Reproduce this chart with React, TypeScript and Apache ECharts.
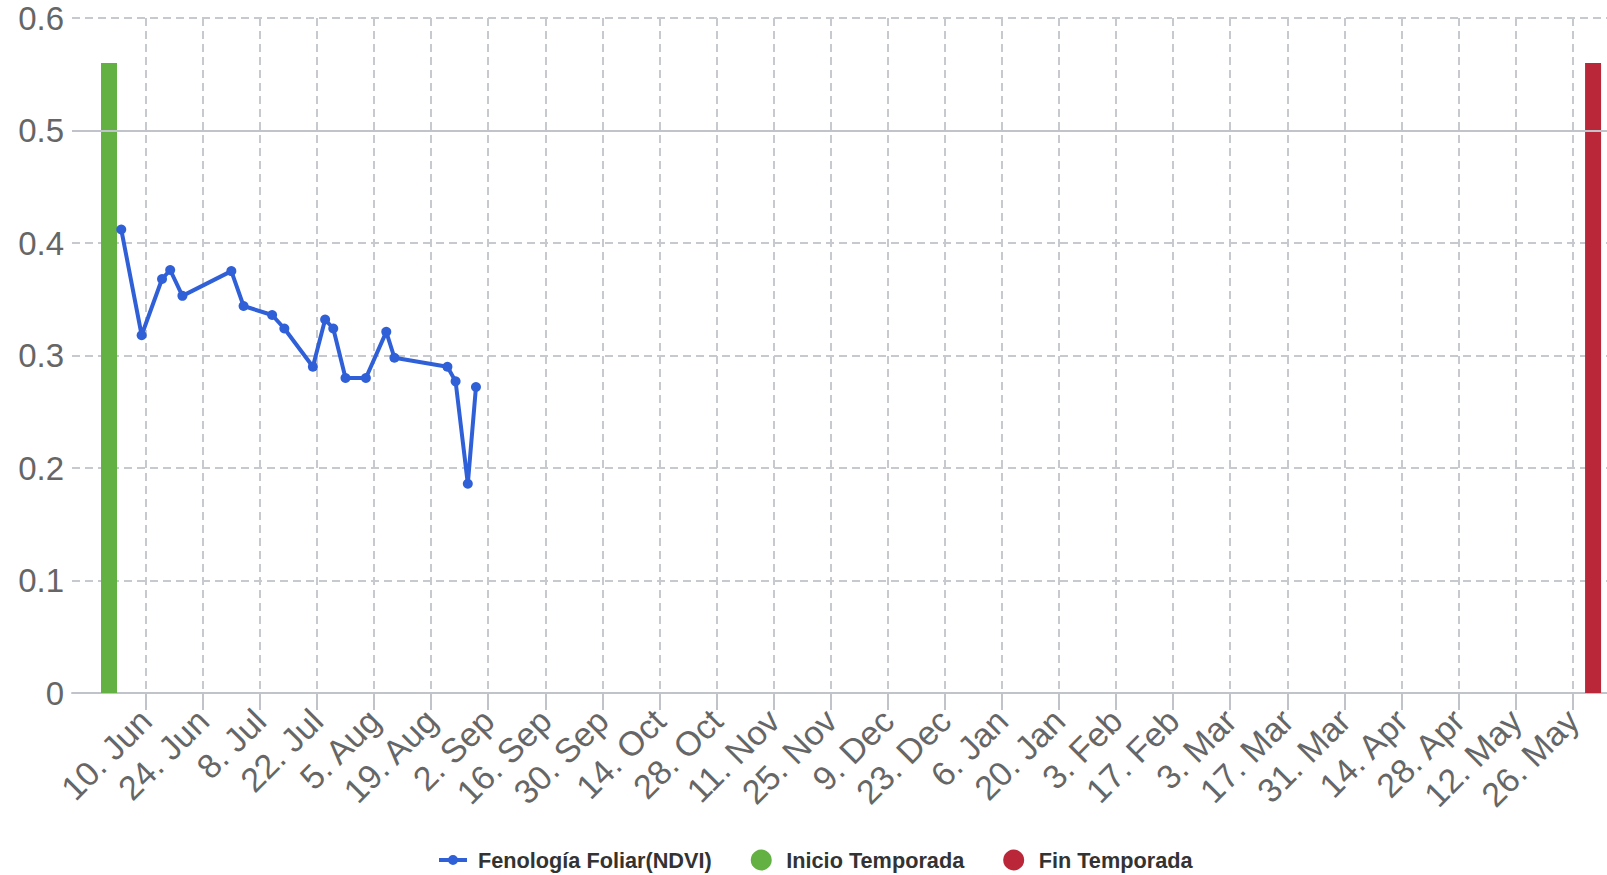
import React, { useEffect, useRef } from "react";
import * as echarts from "echarts";

// NDVI observations (Fenología Foliar)
const NDVI_DATES = [
  "2024-06-04", "2024-06-09", "2024-06-14", "2024-06-16", "2024-06-19",
  "2024-07-01", "2024-07-04", "2024-07-11", "2024-07-14", "2024-07-21",
  "2024-07-24", "2024-07-26", "2024-07-29", "2024-08-03", "2024-08-08",
  "2024-08-10", "2024-08-23", "2024-08-25", "2024-08-28", "2024-08-30",
];
const NDVI_VALUES = [
  0.412, 0.318, 0.368, 0.376, 0.353,
  0.375, 0.344, 0.336, 0.324, 0.29,
  0.332, 0.324, 0.28, 0.28, 0.321,
  0.298, 0.29, 0.277, 0.186, 0.272,
];

// Season markers
const SEASON_START_DATE = "2024-06-01";
const SEASON_END_DATE = "2025-05-31";
const SEASON_START_VALUE = 0.56;
const SEASON_END_VALUE = 0.56;

// X-axis tick dates (every two weeks)
const TICK_DATES = [
  "2024-06-10", "2024-06-24", "2024-07-08", "2024-07-22", "2024-08-05",
  "2024-08-19", "2024-09-02", "2024-09-16", "2024-09-30", "2024-10-14",
  "2024-10-28", "2024-11-11", "2024-11-25", "2024-12-09", "2024-12-23",
  "2025-01-06", "2025-01-20", "2025-02-03", "2025-02-17", "2025-03-03",
  "2025-03-17", "2025-03-31", "2025-04-14", "2025-04-28", "2025-05-12",
  "2025-05-26",
];
const MONTHS = ["Jan", "Feb", "Mar", "Apr", "May", "Jun", "Jul", "Aug", "Sep", "Oct", "Nov", "Dec"];

const Y_MIN = 0;
const Y_MAX = 0.6;
const Y_STEP = 0.1;

const toTs = (s: string) => {
  const [y, m, d] = s.split("-").map(Number);
  return Date.UTC(y, m - 1, d);
};

const X_MIN = Date.UTC(2024, 4, 22, 22);
const X_MAX = Date.UTC(2025, 5, 3, 10);

const FONT = "'Liberation Sans', Arial, sans-serif";
const GRID_COLOR = "#c6cacf";
const AXIS_COLOR = "#c0c4ca";
const LINE_COLOR = "#3060d8";

const LINE_ICON =
  "path://M0,8.5L28,8.5L28,12.5L0,12.5Z M9,10.5A5,5,0,1,1,19,10.5A5,5,0,1,1,9,10.5Z";

export default function App() {
  const ref = useRef<HTMLDivElement>(null);

  useEffect(() => {
    document.body.style.margin = "0";
    if (!ref.current) return;
    const chart = echarts.init(ref.current, undefined, { renderer: "svg" });
    const ticks = TICK_DATES.map(toTs);
    const lineData = NDVI_DATES.map((d, i) => [toTs(d), NDVI_VALUES[i]]);

    chart.setOption({
      animation: false,
      backgroundColor: "#ffffff",
      textStyle: { fontFamily: FONT },
      grid: { left: 72, right: 0, top: 18, bottom: 182, containLabel: false },
      legend: {
        left: 434,
        top: 844,
        itemWidth: 28,
        itemHeight: 21,
        itemGap: 39,
        textStyle: {
          fontFamily: FONT,
          fontSize: 21.7,
          fontWeight: "bold",
          color: "#333333",
          padding: [0, 0, 0, 6],
        },
        data: [
          { name: "Fenología Foliar(NDVI)", icon: LINE_ICON },
          { name: "Inicio Temporada", icon: "circle" },
          { name: "Fin Temporada", icon: "circle" },
        ],
      },
      xAxis: {
        type: "value",
        min: X_MIN,
        max: X_MAX,
        axisLine: { show: true, lineStyle: { color: AXIS_COLOR, width: 2 } },
        axisTick: {
          show: true,
          length: 17,
          customValues: ticks,
          lineStyle: { color: AXIS_COLOR, width: 2 },
        },
        axisLabel: {
          customValues: ticks,
          rotate: 45,
          margin: 22,
          verticalAlign: "middle",
          padding: [7, 0, 0, 0],
          fontSize: 34,
          color: "#666666",
          fontFamily: FONT,
          formatter: (v: number) => {
            const d = new Date(v);
            return `${d.getUTCDate()}. ${MONTHS[d.getUTCMonth()]}`;
          },
        },
        splitLine: {
          show: true,
          lineStyle: { color: GRID_COLOR, width: 2, type: [8, 5] },
        },
      },
      yAxis: {
        type: "value",
        min: Y_MIN,
        max: Y_MAX,
        interval: Y_STEP,
        axisLine: { show: false },
        axisTick: { show: false },
        axisLabel: {
          fontSize: 33,
          color: "#666666",
          margin: 8,
          fontFamily: FONT,
        },
        splitLine: {
          show: true,
          lineStyle: { color: GRID_COLOR, width: 2, type: [8, 5] },
        },
      },
      series: [
        {
          type: "line",
          data: [],
          z: 1,
          silent: true,
          markLine: {
            silent: true,
            symbol: ["none", "none"],
            label: { show: false },
            lineStyle: { color: AXIS_COLOR, width: 2, type: "solid" },
            data: [{ yAxis: 0.5 }],
          },
        },
        {
          name: "Inicio Temporada",
          type: "bar",
          barWidth: 16,
          barGap: "-100%",
          z: 3,
          itemStyle: { color: "#63b043" },
          data: [[toTs(SEASON_START_DATE), SEASON_START_VALUE]],
        },
        {
          name: "Fin Temporada",
          type: "bar",
          barWidth: 16,
          barGap: "-100%",
          z: 3,
          itemStyle: { color: "#b92739" },
          data: [[toTs(SEASON_END_DATE), SEASON_END_VALUE]],
        },
        {
          name: "Fenología Foliar(NDVI)",
          type: "line",
          z: 4,
          symbol: "circle",
          symbolSize: 10,
          showSymbol: true,
          lineStyle: { color: LINE_COLOR, width: 4 },
          itemStyle: { color: LINE_COLOR },
          data: lineData,
        },
      ],
    });

    return () => chart.dispose();
  }, []);

  return (
    <div
      ref={ref}
      style={{ position: "fixed", left: 0, top: 0, width: 1607, height: 875 }}
    />
  );
}
